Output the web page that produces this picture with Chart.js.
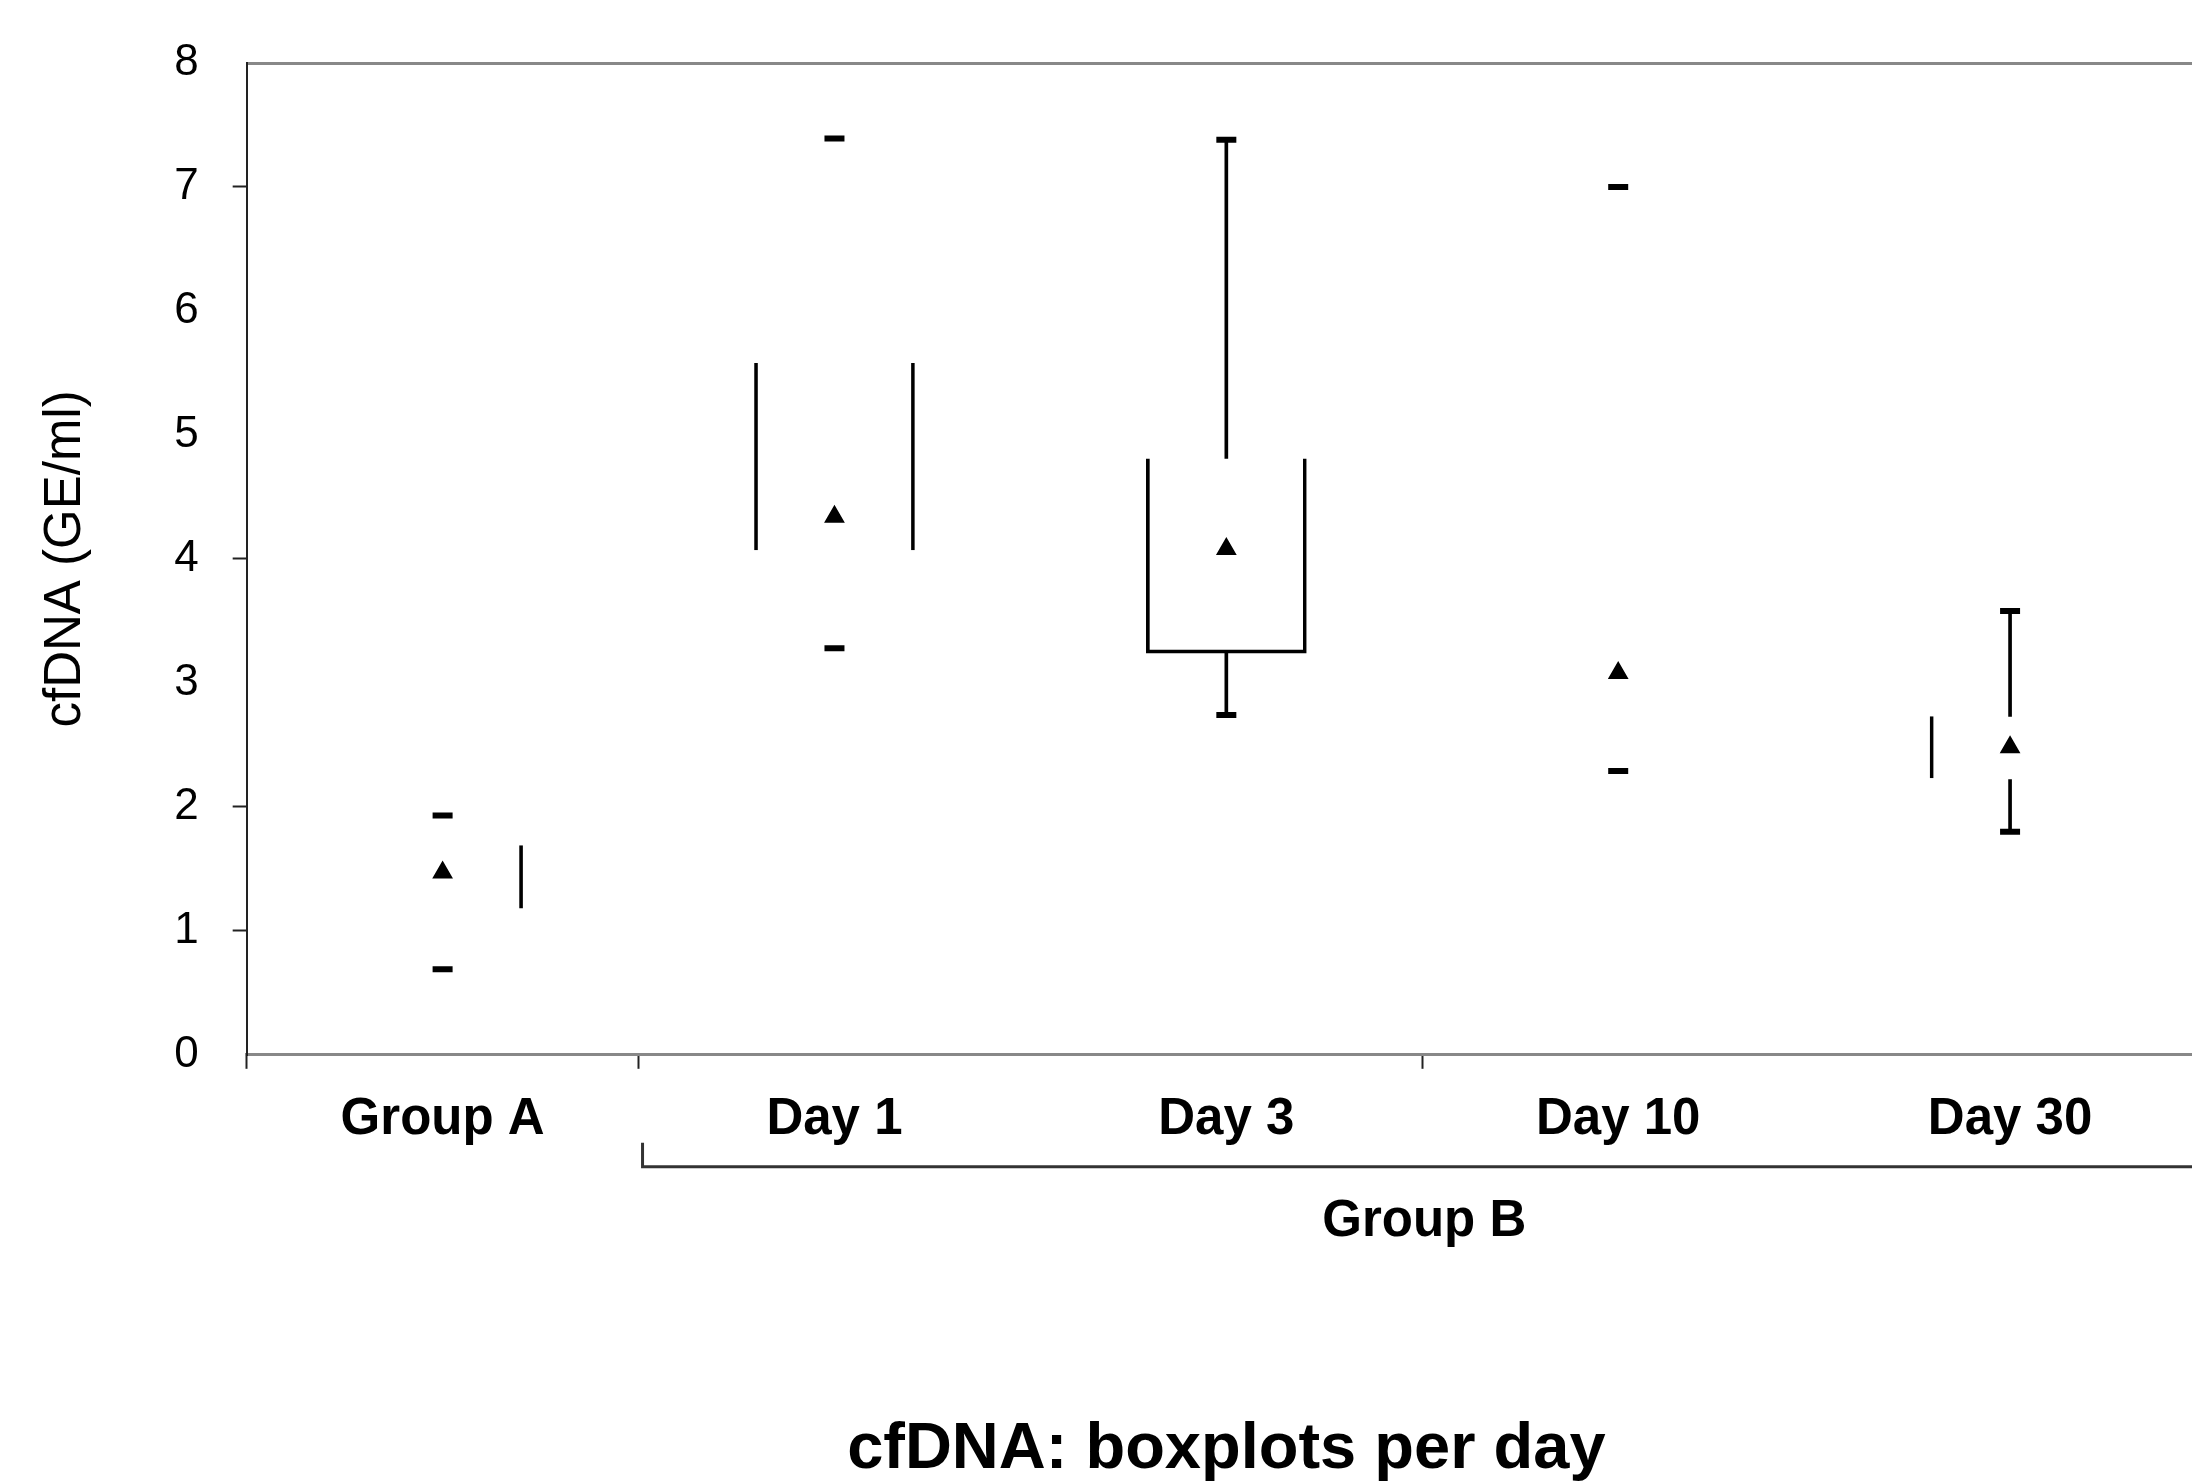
<!DOCTYPE html>
<html>
<head>
<meta charset="utf-8">
<script src="https://cdn.jsdelivr.net/npm/chart.js@4.4.1/dist/chart.umd.min.js"></script>
<style>
  html, body { margin: 0; padding: 0; background: #fff; overflow: hidden; }
  #wrap { width: 2240px; height: 1483px; }
</style>
</head>
<body>
<div id="wrap"><canvas id="mychart"></canvas></div>
<script>
// values
const categories = ['Group A', 'Day 1', 'Day 3', 'Day 10', 'Day 30'];
const maxValues = [1.93, 7.39, 7.38, 7.0, 3.58];
const minValues = [0.69, 3.28, 2.74, 2.29, 1.80];
const meanValues = [1.47, 4.34, 4.08, 3.08, 2.48];
const boxRanges = [[1.18, 1.69], [4.07, 5.58], [3.24, 4.81], null, [2.23, 2.73]];
const upperWhiskers = [null, null, [4.81, 7.38], null, [2.73, 3.58]];
const lowerWhiskers = [null, null, [2.74, 3.24], null, [1.80, 2.22]];
const yTicks = [0, 1, 2, 3, 4, 5, 6, 7, 8];
const groupBLabel = 'Group B';

// which sides of each box are drawn in the original
const boxSides = [
    {top: 0, right: 3, bottom: 0, left: 0},
    {top: 0, right: 3, bottom: 0, left: 3},
    {top: 0, right: 3, bottom: 3, left: 3},
    0,
    {top: 0, right: 0, bottom: 0, left: 3}
];

const FONT = '"Liberation Sans", Arial, Helvetica, sans-serif';

// bracket + "Group B" under the day labels
const groupBracket = {
    id: 'groupBracket',
    afterDraw(chart) {
        const ctx = chart.ctx;
        const xs = chart.scales.x;
        const bottom = chart.chartArea.bottom;
        const x1 = (xs.getPixelForValue(0) + xs.getPixelForValue(1)) / 2 + 4;
        const x2 = xs.getPixelForValue(4) + (xs.getPixelForValue(4) - xs.getPixelForValue(3)) / 2;
        ctx.save();
        ctx.strokeStyle = '#333';
        ctx.lineWidth = 3;
        ctx.beginPath();
        ctx.moveTo(x1, bottom + 88);
        ctx.lineTo(x1, bottom + 112);
        ctx.lineTo(x2, bottom + 112);
        ctx.stroke();
        ctx.fillStyle = '#000';
        ctx.font = 'bold 51px ' + FONT;
        ctx.textAlign = 'center';
        ctx.textBaseline = 'middle';
        ctx.fillText(groupBLabel, (x1 + x2) / 2, bottom + 167);
        ctx.restore();
    }
};

const ctx = document.getElementById('mychart').getContext('2d');
const myChart = new Chart(ctx, {
    data: {
        labels: categories,
        datasets: [
            {
                type: 'bar',
                label: 'box',
                data: boxRanges,
                grouped: false,
                barThickness: 160,
                backgroundColor: 'rgba(0,0,0,0)',
                borderColor: '#000',
                borderSkipped: false,
                borderWidth: (c) => boxSides[c.dataIndex],
                order: 3
            },
            {
                type: 'bar',
                label: 'upper whisker',
                data: upperWhiskers,
                grouped: false,
                barThickness: 3,
                backgroundColor: '#000',
                borderWidth: 0,
                order: 3
            },
            {
                type: 'bar',
                label: 'lower whisker',
                data: lowerWhiskers,
                grouped: false,
                barThickness: 3,
                backgroundColor: '#000',
                borderWidth: 0,
                order: 3
            },
            {
                type: 'line',
                label: 'max',
                data: maxValues,
                showLine: false,
                pointStyle: 'line',
                pointRadius: 10,
                pointBorderWidth: 6,
                pointBorderColor: '#000',
                order: 1
            },
            {
                type: 'line',
                label: 'min',
                data: minValues,
                showLine: false,
                pointStyle: 'line',
                pointRadius: 10,
                pointBorderWidth: 6,
                pointBorderColor: '#000',
                order: 1
            },
            {
                type: 'line',
                label: 'mean',
                data: meanValues,
                showLine: false,
                pointStyle: 'triangle',
                pointRadius: 10,
                pointBackgroundColor: '#000',
                pointBorderColor: '#000',
                pointBorderWidth: 2,
                order: 1
            }
        ]
    },
    options: {
        responsive: true,
        maintainAspectRatio: false,
        animation: false,
        layout: {
            padding: {top: 63, right: 34, bottom: 0, left: 0}
        },
        plugins: {
            legend: {display: false},
            tooltip: {enabled: false},
            title: {
                display: true,
                text: 'cfDNA: boxplots per day',
                position: 'bottom',
                fullSize: false,
                color: '#000',
                font: {family: FONT, size: 65, weight: 'bold', lineHeight: 1},
                padding: {top: 246, bottom: 0}
            }
        },
        scales: {
            x: {
                type: 'category',
                offset: true,
                border: {display: true, color: '#888', width: 3},
                grid: {
                    offset: true,
                    drawOnChartArea: false,
                    drawTicks: true,
                    tickLength: 14,
                    tickWidth: 2,
                    tickColor: (c) => [0, 1, 3].includes(c.index) ? '#222' : 'rgba(0,0,0,0)'
                },
                ticks: {
                    color: '#000',
                    padding: 21,
                    font: {family: FONT, size: 51, weight: 'bold'}
                }
            },
            y: {
                min: 0,
                max: 8,
                afterBuildTicks: (axis) => { axis.ticks = yTicks.map(v => ({value: v})); },
                border: {display: true, color: '#222', width: 2},
                grid: {
                    drawOnChartArea: true,
                    drawTicks: true,
                    tickLength: 14,
                    tickWidth: 2,
                    color: (c) => c.tick && c.tick.value === 8 ? '#888' : 'rgba(0,0,0,0)',
                    lineWidth: 3,
                    tickColor: (c) => c.tick && [1, 2, 4, 7].includes(c.tick.value) ? '#222' : 'rgba(0,0,0,0)'
                },
                ticks: {
                    color: '#000',
                    padding: 34,
                    font: {family: FONT, size: 44}
                },
                title: {
                    display: true,
                    text: 'cfDNA (GE/ml)',
                    color: '#000',
                    font: {family: FONT, size: 51},
                    padding: {top: 35, bottom: 44}
                }
            }
        }
    },
    plugins: [groupBracket]
});
</script>
</body>
</html>
